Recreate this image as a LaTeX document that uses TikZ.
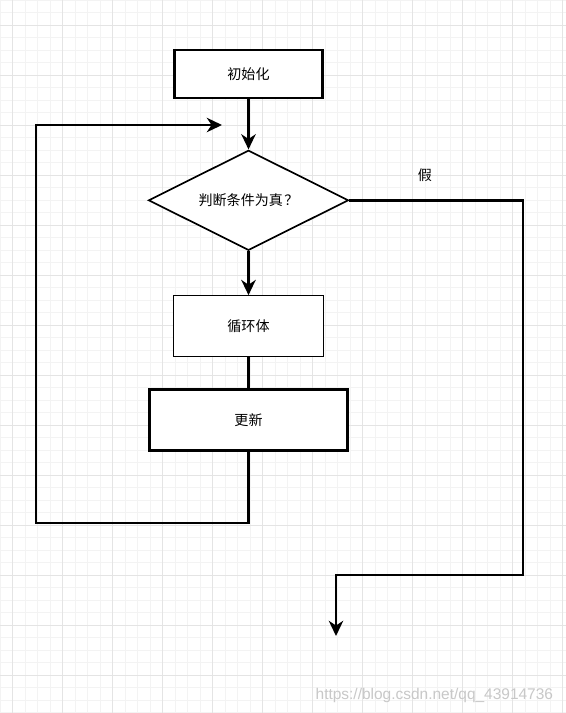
\documentclass[tikz,border=0pt]{standalone}
\usepackage{fontspec}
\newfontfamily\cjk{Noto Sans CJK SC}
\newfontfamily\wmfont{Liberation Sans}
\usetikzlibrary{positioning,arrows.meta,shapes.geometric}
\definecolor{cLine}{HTML}{000000}
\definecolor{cGridMin}{HTML}{F3F3F3}
\definecolor{cGridMaj}{HTML}{E4E4E4}
\definecolor{cMark}{HTML}{C8C8C8}
\tikzset{
  base/.style={draw=cLine,fill=white,align=center,font=\cjk\fontsize{10}{12}\selectfont,inner sep=2pt},
  bold/.style={base,line width=2pt}, slim/.style={base,line width=0.9pt},
  initbox/.style={bold,minimum width=3.7cm,minimum height=1.2cm},
  bodybox/.style={slim,minimum width=3.75cm,minimum height=1.52cm},
  updbox/.style={bold,minimum width=4.95cm,minimum height=1.52cm},
  decision/.style={base,diamond,line width=1.2pt,minimum width=5cm,minimum height=2.5cm,aspect=2,inner sep=0pt},
  arr/.style={-{Stealth[length=3.8mm,width=3.6mm,inset=1.2mm]},line width=2pt,draw=cLine},
  link/.style={line width=2pt,draw=cLine},
  lbl/.style={font=\cjk\fontsize{10}{12}\selectfont,inner sep=1pt},
  gmin/.style={cGridMin,line width=0.5pt}, gmaj/.style={cGridMaj,line width=0.7pt}}

\begin{document}
\begin{tikzpicture}[x=0.025cm,y=-0.025cm]
\useasboundingbox (0,0) rectangle (566,713);
\fill[white] (0,0) rectangle (566,713);
% grid
\foreach \gx in {0,12.5,...,566} \draw[gmin] (\gx,0) -- (\gx,713);
\foreach \gy in {0,12.5,...,713} \draw[gmin] (0,\gy) -- (566,\gy);
\foreach \gx in {12.5,62.5,...,566} \draw[gmaj] (\gx,0) -- (\gx,713);
\foreach \gy in {25,75,...,713} \draw[gmaj] (0,\gy) -- (566,\gy);
% flow
\node[initbox] (init) at (248.5,74) {初始化};
\node[decision, below=1.25cm of init] (cond) {判断条件为真\hspace{0.1em}？};
\node[bodybox, below=1.1cm of cond] (body) {循环体};
\node[updbox, below=0.78cm of body] (upd) {更新};
\coordinate (lb) at (36,523); \coordinate (lt) at (36,125); \coordinate (back) at (222,125);
\coordinate (fr) at (523,575); \coordinate (fl) at (336,575); \coordinate (fend) at (336,636);
\draw[arr] (init)--(cond); \draw[arr] (cond)--(body); \draw[link] (body)--(upd);
\draw[arr] (upd.south) |- (lb) -- (lt) -- (back);
\draw[arr] (cond.east) -| (fr) -- (fl) -- (fend);
\node[lbl] (no) at (425,175) {假};
\node[font=\wmfont\fontsize{11}{13}\selectfont, text=cMark, anchor=east] (mark) at (558,695) {https://blog.csdn.net/qq\_43914736};
\end{tikzpicture}
\end{document}
